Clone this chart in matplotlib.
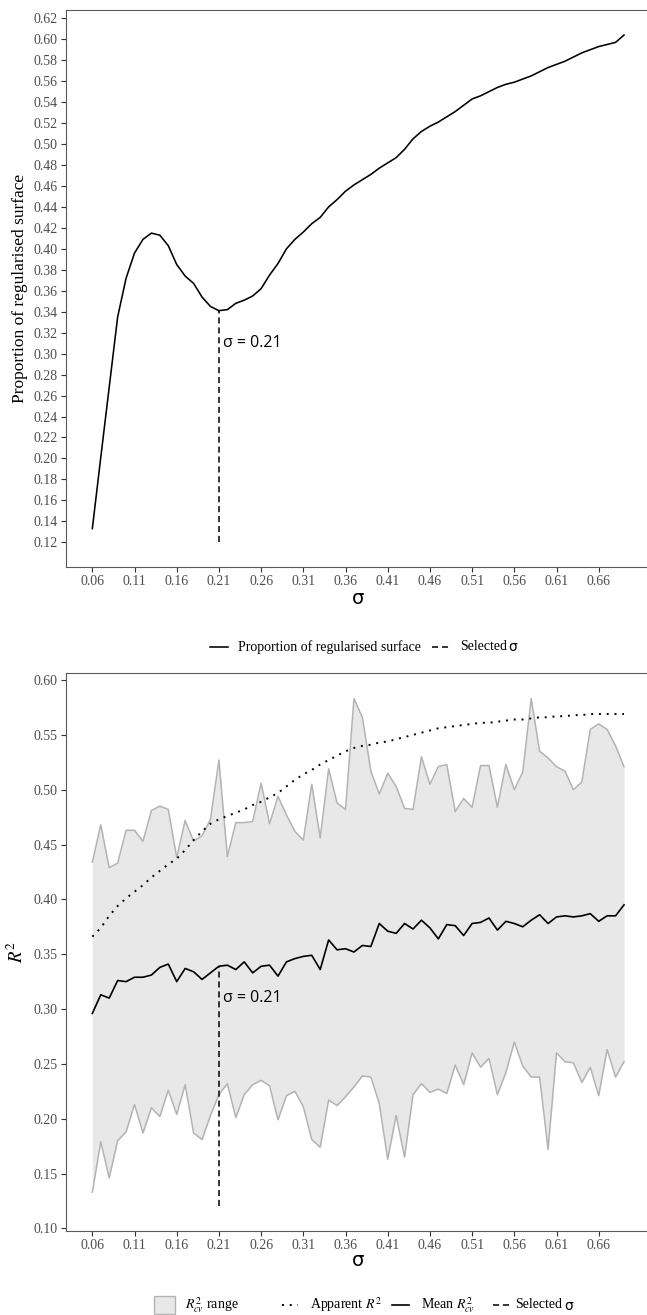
import matplotlib
matplotlib.use("Agg")

import numpy as np
import matplotlib.pyplot as plt
from matplotlib.lines import Line2D
from matplotlib.patches import Rectangle

plt.rcParams["font.family"] = ["Liberation Serif", "DejaVu Sans"]
plt.rcParams["mathtext.fontset"] = "stix"

# -----------------------------
# DATA
# -----------------------------
sigma = [0.06, 0.07, 0.08, 0.09, 0.10, 0.11, 0.12, 0.13, 0.14, 0.15,
         0.16, 0.17, 0.18, 0.19, 0.20, 0.21, 0.22, 0.23, 0.24, 0.25,
         0.26, 0.27, 0.28, 0.29, 0.30, 0.31, 0.32, 0.33, 0.34, 0.35,
         0.36, 0.37, 0.38, 0.39, 0.40, 0.41, 0.42, 0.43, 0.44, 0.45,
         0.46, 0.47, 0.48, 0.49, 0.50, 0.51, 0.52, 0.53, 0.54, 0.55,
         0.56, 0.57, 0.58, 0.59, 0.60, 0.61, 0.62, 0.63, 0.64, 0.65,
         0.66, 0.67, 0.68, 0.69]

prop_regularised = [0.133, 0.201, 0.268, 0.335, 0.372, 0.396, 0.409, 0.415, 0.413, 0.403,
                    0.385, 0.374, 0.367, 0.354, 0.345, 0.341, 0.342, 0.348, 0.351, 0.355,
                    0.362, 0.375, 0.386, 0.400, 0.409, 0.416, 0.424, 0.430, 0.440, 0.447,
                    0.455, 0.461, 0.466, 0.471, 0.477, 0.482, 0.487, 0.495, 0.505, 0.512,
                    0.517, 0.521, 0.526, 0.531, 0.537, 0.543, 0.546, 0.550, 0.554, 0.557,
                    0.559, 0.562, 0.565, 0.569, 0.573, 0.576, 0.579, 0.583, 0.587, 0.590,
                    0.593, 0.595, 0.597, 0.604]

r2_cv_upper = [0.434, 0.468, 0.429, 0.433, 0.463, 0.463, 0.453, 0.481, 0.485, 0.482,
               0.438, 0.472, 0.453, 0.458, 0.473, 0.527, 0.439, 0.470, 0.470, 0.471,
               0.506, 0.469, 0.494, 0.477, 0.462, 0.454, 0.505, 0.456, 0.519, 0.488,
               0.482, 0.583, 0.566, 0.517, 0.496, 0.515, 0.503, 0.483, 0.482, 0.530,
               0.505, 0.521, 0.523, 0.480, 0.492, 0.484, 0.522, 0.522, 0.484, 0.523,
               0.500, 0.516, 0.583, 0.535, 0.529, 0.521, 0.517, 0.500, 0.507, 0.555,
               0.560, 0.555, 0.540, 0.521]

r2_cv_lower = [0.133, 0.179, 0.146, 0.180, 0.188, 0.213, 0.187, 0.210, 0.202, 0.226,
               0.204, 0.231, 0.187, 0.181, 0.203, 0.222, 0.232, 0.201, 0.222, 0.231,
               0.235, 0.230, 0.199, 0.221, 0.225, 0.211, 0.181, 0.174, 0.217, 0.212,
               0.220, 0.229, 0.239, 0.238, 0.214, 0.163, 0.203, 0.165, 0.222, 0.232,
               0.224, 0.227, 0.223, 0.249, 0.231, 0.260, 0.247, 0.255, 0.222, 0.242,
               0.270, 0.248, 0.238, 0.238, 0.172, 0.260, 0.252, 0.251, 0.233, 0.247,
               0.221, 0.263, 0.238, 0.252]

r2_cv_mean = [0.296, 0.313, 0.310, 0.326, 0.325, 0.329, 0.329, 0.331, 0.338, 0.341,
              0.325, 0.337, 0.334, 0.327, 0.333, 0.339, 0.340, 0.336, 0.343, 0.333,
              0.339, 0.340, 0.330, 0.343, 0.346, 0.348, 0.349, 0.336, 0.363, 0.354,
              0.355, 0.352, 0.358, 0.357, 0.378, 0.371, 0.369, 0.378, 0.373, 0.381,
              0.374, 0.364, 0.377, 0.376, 0.367, 0.378, 0.379, 0.383, 0.372, 0.380,
              0.378, 0.375, 0.381, 0.386, 0.378, 0.384, 0.385, 0.384, 0.385, 0.387,
              0.380, 0.385, 0.385, 0.395]

r2_apparent = [0.366, 0.374, 0.385, 0.394, 0.401, 0.407, 0.413, 0.420, 0.426, 0.432,
               0.437, 0.445, 0.454, 0.462, 0.469, 0.473, 0.476, 0.479, 0.482, 0.486,
               0.489, 0.493, 0.497, 0.503, 0.509, 0.514, 0.518, 0.523, 0.527, 0.531,
               0.535, 0.538, 0.540, 0.541, 0.543, 0.544, 0.546, 0.548, 0.550, 0.552,
               0.554, 0.556, 0.557, 0.558, 0.559, 0.560, 0.561, 0.561, 0.562, 0.563,
               0.564, 0.564, 0.565, 0.566, 0.566, 0.567, 0.567, 0.568, 0.568, 0.569,
               0.569, 0.569, 0.569, 0.569]

selected_sigma = 0.21
x_ticks = [0.06, 0.11, 0.16, 0.21, 0.26, 0.31, 0.36, 0.41, 0.46, 0.51, 0.56, 0.61, 0.66]
top_y_ticks = [0.12, 0.14, 0.16, 0.18, 0.20, 0.22, 0.24, 0.26, 0.28, 0.30, 0.32,
               0.34, 0.36, 0.38, 0.40, 0.42, 0.44, 0.46, 0.48, 0.50, 0.52, 0.54,
               0.56, 0.58, 0.60, 0.62]
bottom_y_ticks = [0.10, 0.15, 0.20, 0.25, 0.30, 0.35, 0.40, 0.45, 0.50, 0.55, 0.60]

# -----------------------------
# LAYOUT HELPERS (pixels -> figure fraction)
# -----------------------------
W, H = 647, 1315


def fx(px):
    return px / W


def fy(py):
    return 1 - py / H


BORDER = "#5a5a5a"
TICKLAB = "#4D4D4D"
RIBBON_FILL = "#E8E8E8"
RIBBON_EDGE = "#B3B3B3"
DASH = (4, 2.5)
DOT = (1, 3)
LEG_FS = 10


def style_axes(ax, yticks):
    ax.set_xticks(x_ticks)
    ax.set_xticklabels([f"{t:.2f}" for t in x_ticks])
    ax.set_yticks(yticks)
    ax.set_yticklabels([f"{t:.2f}" for t in yticks])
    ax.tick_params(direction="out", length=3.5, width=0.8, color="#333333",
                   labelcolor=TICKLAB, labelsize=10, pad=2.5)
    for s in ax.spines.values():
        s.set_color(BORDER)
        s.set_linewidth(0.8)
    ax.set_xlim(0.0288, 0.7215)


fig = plt.figure(figsize=(W / 100, H / 100), dpi=100)

# -----------------------------
# TOP PANEL
# -----------------------------
ax1 = fig.add_axes([fx(66), fy(567), (650.6 - 66) / W, (567 - 10) / H])
ax1.plot(sigma, prop_regularised, color="black", lw=1.15)
sel_top = prop_regularised[sigma.index(selected_sigma)]
ax1.plot([selected_sigma, selected_sigma], [0.12, sel_top], color="black",
         lw=1.1, dashes=DASH)
ax1.text(0.2145, 0.31, "σ = 0.21", family=["Open Sans", "DejaVu Sans"],
         fontsize=11.5, ha="left", va="center")
style_axes(ax1, top_y_ticks)
ax1.set_ylim(0.0964, 0.6279)
ax1.set_ylabel("Proportion of regularised surface", fontsize=12.5, labelpad=4)
fig.text(fx(358), fy(598), "σ", family="DejaVu Sans", fontsize=14,
         ha="center", va="center")

# top legend
fig.add_artist(Line2D([fx(210), fx(228)], [fy(647)] * 2,
                      transform=fig.transFigure, color="black", lw=1.15))
fig.text(fx(238), fy(647), "Proportion of regularised surface", fontsize=LEG_FS,
         ha="left", va="center")
fig.add_artist(Line2D([fx(432), fx(450)], [fy(647)] * 2,
                      transform=fig.transFigure, color="black", lw=1.1,
                      dashes=DASH))
fig.text(fx(460), fy(647), "Selected", fontsize=LEG_FS, ha="left", va="center")
fig.text(fx(508), fy(647.5), "σ", family="DejaVu Sans", fontsize=LEG_FS,
         ha="left", va="center")

# -----------------------------
# BOTTOM PANEL
# -----------------------------
ax2 = fig.add_axes([fx(66), fy(1230.7), (650.6 - 66) / W, (1230.7 - 673) / H])
ax2.fill_between(sigma, r2_cv_lower, r2_cv_upper, color=RIBBON_FILL, lw=0)
ax2.plot(sigma, r2_cv_upper, color=RIBBON_EDGE, lw=1.1)
ax2.plot(sigma, r2_cv_lower, color=RIBBON_EDGE, lw=1.1)
ax2.plot(sigma, r2_apparent, color="black", lw=1.4, dashes=DOT)
ax2.plot(sigma, r2_cv_mean, color="black", lw=1.2)
sel_bot = r2_cv_mean[sigma.index(selected_sigma)]
ax2.plot([selected_sigma, selected_sigma], [0.12, sel_bot], color="black",
         lw=1.1, dashes=DASH)
ax2.text(0.2145, 0.31, "σ = 0.21", family=["Open Sans", "DejaVu Sans"],
         fontsize=11.5, ha="left", va="center")
style_axes(ax2, bottom_y_ticks)
ax2.set_ylim(0.0979, 0.6064)
ax2.set_ylabel(r"$R^2$", fontsize=13.5, labelpad=5)
fig.text(fx(358), fy(1260), "σ", family="DejaVu Sans", fontsize=14,
         ha="center", va="center")

# bottom legend
ly = 1305
fig.add_artist(Rectangle((fx(154), fy(1314)), (175 - 154) / W, 18 / H,
                         transform=fig.transFigure, facecolor=RIBBON_FILL,
                         edgecolor=RIBBON_EDGE, lw=1.0))
fig.text(fx(185), fy(ly), r"$R^2_{cv}$ range", fontsize=LEG_FS, ha="left", va="center")
fig.add_artist(Line2D([fx(282), fx(298)], [fy(ly)] * 2,
                      transform=fig.transFigure, color="black", lw=1.4,
                      dashes=DOT))
fig.text(fx(310), fy(ly), r"Apparent $R^2$", fontsize=LEG_FS, ha="left", va="center")
fig.add_artist(Line2D([fx(392), fx(409)], [fy(ly)] * 2,
                      transform=fig.transFigure, color="black", lw=1.2))
fig.text(fx(421), fy(ly), r"Mean $R^2_{cv}$", fontsize=LEG_FS, ha="left", va="center")
fig.add_artist(Line2D([fx(493), fx(509)], [fy(ly)] * 2,
                      transform=fig.transFigure, color="black", lw=1.1,
                      dashes=DASH))
fig.text(fx(515), fy(ly), "Selected", fontsize=LEG_FS, ha="left", va="center")
fig.text(fx(564), fy(ly + 0.5), "σ", family="DejaVu Sans", fontsize=LEG_FS,
         ha="left", va="center")

fig.savefig("out.png", dpi=100)
plt.close(fig)
